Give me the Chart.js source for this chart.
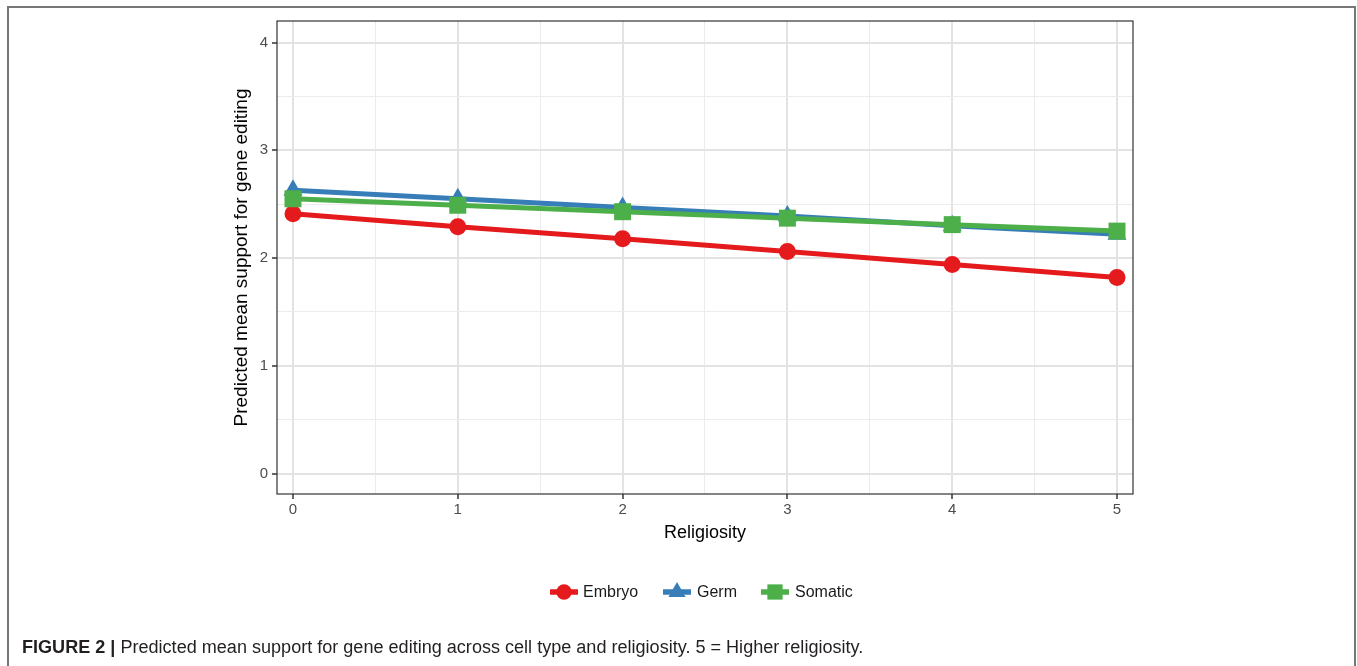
<!DOCTYPE html>
<html>
<head>
<meta charset="utf-8">
<script src="https://cdn.jsdelivr.net/npm/chart.js@4/dist/chart.umd.min.js"></script>
<style>
    html, body { margin: 0; padding: 0; background: #fff; }
    body { width: 1357px; height: 666px; position: relative; overflow: hidden; font-family: "Liberation Sans", Arial, sans-serif; }
    #frame { position: absolute; left: 7px; top: 6px; width: 1349px; height: 670px; border-left: 2px solid #777; border-top: 2px solid #777; border-right: 2px solid #777; box-sizing: border-box; }
    #chartBox { position: absolute; left: 0; top: 0; width: 1357px; height: 666px; }
    #caption { position: absolute; left: 22px; top: 637px; font-family: "Liberation Sans", Arial, sans-serif; font-size: 18px; color: #231f20; white-space: nowrap; transform-origin: 0 0; }
    #caption b { font-weight: bold; }
</style>
</head>
<body>
<div id="frame"></div>
<div id="chartBox"><canvas id="religiosityChart" width="1357" height="666"></canvas></div>
<div id="caption"><b>FIGURE 2 |</b> Predicted mean support for gene editing across cell type and religiosity. 5 = Higher religiosity.</div>
<script>
const religiosity = [0, 1, 2, 3, 4, 5];
const embryo = [2.41, 2.29, 2.18, 2.06, 1.94, 1.82];
const germ = [2.63, 2.55, 2.47, 2.39, 2.30, 2.22];
const somatic = [2.55, 2.49, 2.43, 2.37, 2.31, 2.25];
const xTicks = [0, 0.5, 1, 1.5, 2, 2.5, 3, 3.5, 4, 4.5, 5];
const yTicks = [0, 0.5, 1, 1.5, 2, 2.5, 3, 3.5, 4];

const seriesStyles = [
    { label: 'Embryo', color: '#e41a1c', pointStyle: 'circle', radius: 8.5, order: 3, values: embryo },
    { label: 'Germ', color: '#377eb8', pointStyle: 'triangle', radius: 11, order: 2, values: germ },
    { label: 'Somatic', color: '#4daf4a', pointStyle: 'rect', radius: 12, order: 1, values: somatic }
];

const FONT = '"Liberation Sans", Arial, sans-serif';
const isMajor = (v) => Math.abs(v - Math.round(v)) < 1e-6;

// caption is a condensed face in the original, squeeze it to the same width
const caption = document.getElementById('caption');
caption.style.transform = 'scaleX(' + (841 / caption.offsetWidth) + ')';

function gridOptions() {
    return {
        drawOnChartArea: true,
        drawTicks: true,
        tickLength: 5,
        color: (ctx) => isMajor(ctx.tick.value) ? '#e3e3e3' : '#ececec',
        lineWidth: (ctx) => isMajor(ctx.tick.value) ? 2 : 1,
        tickColor: (ctx) => isMajor(ctx.tick.value) ? '#333333' : 'rgba(0,0,0,0)',
        tickWidth: 1.5
    };
}

// panel border + bottom legend
const panelAndLegend = {
    id: 'panelAndLegend',
    afterDraw(chart) {
        const { ctx, chartArea } = chart;
        ctx.save();
        ctx.strokeStyle = '#333333';
        ctx.lineWidth = 1.2;
        ctx.strokeRect(chartArea.left, chartArea.top, chartArea.right - chartArea.left, chartArea.bottom - chartArea.top);

        const keyY = 592;
        const keys = [
            { x: 550, textX: 583 },
            { x: 663, textX: 697 },
            { x: 761, textX: 795 }
        ];
        ctx.font = '16px ' + FONT;
        ctx.textBaseline = 'middle';
        seriesStyles.forEach((s, i) => {
            const k = keys[i];
            ctx.strokeStyle = s.color;
            ctx.fillStyle = s.color;
            ctx.lineWidth = 5.5;
            ctx.beginPath();
            ctx.moveTo(k.x, keyY);
            ctx.lineTo(k.x + 28, keyY);
            ctx.stroke();
            Chart.helpers.drawPoint(ctx, { pointStyle: s.pointStyle, radius: s.radius * 0.9, rotation: 0, borderWidth: 0 }, k.x + 14, keyY);
            ctx.fillStyle = '#1a1a1a';
            ctx.fillText(s.label, k.textX, keyY + 1);
        });
        ctx.restore();
    }
};

const chart = new Chart(document.getElementById('religiosityChart').getContext('2d'), {
    type: 'line',
    data: {
        labels: religiosity,
        datasets: seriesStyles.map((s) => ({
            label: s.label,
            data: religiosity.map((r, i) => ({ x: r, y: s.values[i] })),
            borderColor: s.color,
            backgroundColor: s.color,
            borderWidth: 5,
            pointStyle: s.pointStyle,
            pointRadius: s.radius,
            pointBackgroundColor: s.color,
            pointBorderWidth: 0,
            tension: 0,
            order: s.order,
            clip: false
        }))
    },
    options: {
        responsive: false,
        animation: false,
        layout: { padding: { left: 230, top: 21, right: 224, bottom: 122 } },
        plugins: { legend: { display: false }, tooltip: { enabled: false } },
        scales: {
            x: {
                type: 'linear',
                min: -0.097,
                max: 5.097,
                afterBuildTicks: (axis) => { axis.ticks = xTicks.map((v) => ({ value: v })); },
                afterFit: (axis) => { axis.height = 50; },
                grid: gridOptions(),
                border: { display: false },
                ticks: {
                    autoSkip: false,
                    maxRotation: 0,
                    padding: 2,
                    color: '#4d4d4d',
                    font: { size: 15, family: FONT },
                    callback: (v) => isMajor(v) ? String(Math.round(v)) : ''
                },
                title: {
                    display: true,
                    text: 'Religiosity',
                    color: '#000000',
                    padding: 0,
                    font: { size: 18, family: FONT }
                }
            },
            y: {
                type: 'linear',
                min: -0.19,
                max: 4.2,
                afterBuildTicks: (axis) => { axis.ticks = yTicks.map((v) => ({ value: v })); },
                afterFit: (axis) => { axis.width = 47; },
                grid: gridOptions(),
                border: { display: false },
                ticks: {
                    autoSkip: false,
                    padding: 4,
                    color: '#4d4d4d',
                    font: { size: 15, family: FONT },
                    callback: (v) => isMajor(v) ? String(Math.round(v)) : ''
                },
                title: {
                    display: true,
                    text: 'Predicted mean support for gene editing',
                    color: '#000000',
                    padding: 0,
                    font: { size: 19, family: FONT }
                }
            }
        }
    },
    plugins: [panelAndLegend]
});
</script>
</body>
</html>
